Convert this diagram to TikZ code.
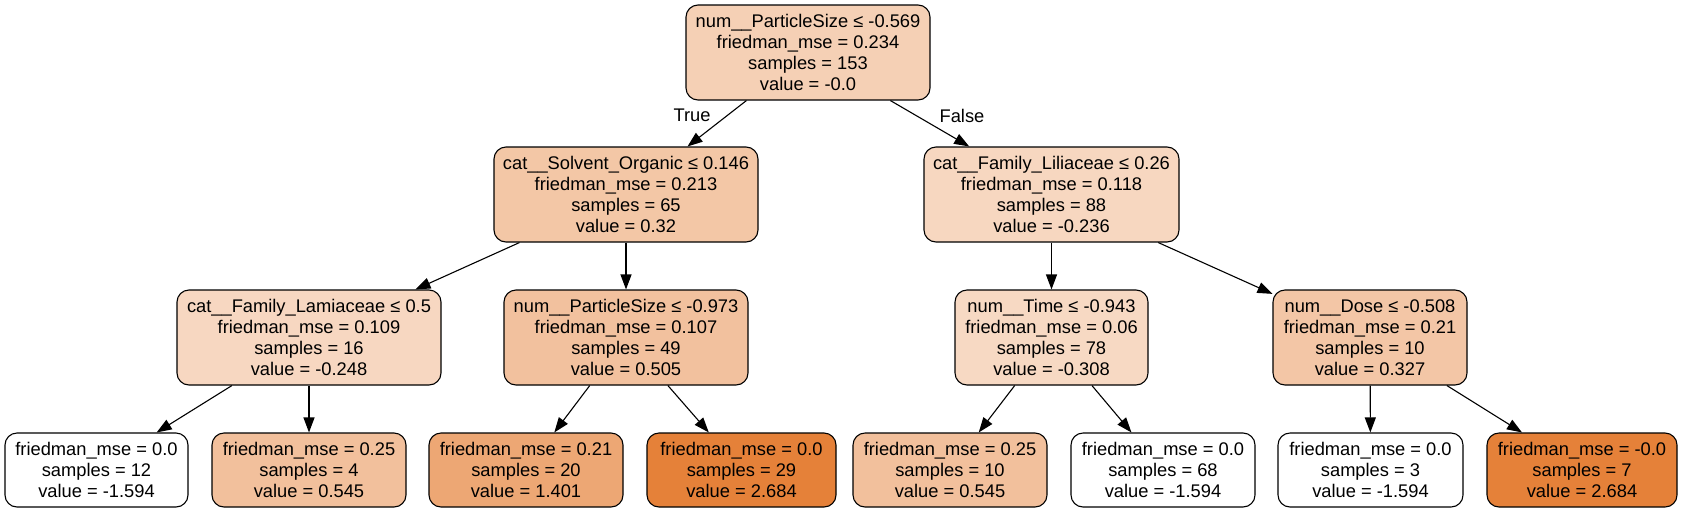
\documentclass[tikz,border=0pt]{standalone}
\usepackage{fontspec}
\setmainfont{Liberation Sans}
\usetikzlibrary{arrows.meta}
\definecolor{cRoot}{RGB}{245,208,181}
\definecolor{cA}{RGB}{243,199,166}
\definecolor{cB}{RGB}{247,215,192}
\definecolor{cC}{RGB}{247,215,193}
\definecolor{cD}{RGB}{242,193,158}
\definecolor{cE}{RGB}{247,217,195}
\definecolor{cF}{RGB}{243,198,166}
\definecolor{cHalf}{RGB}{242,192,156}
\definecolor{cG}{RGB}{237,167,116}
\definecolor{cMax}{RGB}{229,129,57}
\tikzset{
  treebox/.style={draw=black, line width=1.1pt, rounded corners=12pt, align=center,
    inner sep=0pt, font=\fontsize{18.3}{21.2}\selectfont},
  splitbox/.style={treebox, minimum height=95pt},
  leafbox/.style={treebox, minimum height=74pt},
  edgelabel/.style={font=\fontsize{18.3}{21.2}\selectfont, inner sep=0pt},
  conn/.style={draw=black, line width=1.1pt, -{Triangle[length=15pt,width=11pt]}}
}
\begin{document}
\begin{tikzpicture}[x=1pt,y=-1pt]
\useasboundingbox (0,0) rectangle (1681,512);
\node[splitbox, fill=cRoot, minimum width=244pt] (root) at (808,52.5)
  {num\_\_ParticleSize ≤ -0.569\\friedman\_mse = 0.234\\samples = 153\\value = -0.0};
\node[splitbox, fill=cA, minimum width=264pt] (n1) at (626,194.5)
  {cat\_\_Solvent\_Organic ≤ 0.146\\friedman\_mse = 0.213\\samples = 65\\value = 0.32};
\node[splitbox, fill=cB, minimum width=255pt] (n2) at (1051.5,194.5)
  {cat\_\_Family\_Liliaceae ≤ 0.26\\friedman\_mse = 0.118\\samples = 88\\value = -0.236};
\node[splitbox, fill=cC, minimum width=264pt] (n3) at (309,337.5)
  {cat\_\_Family\_Lamiaceae ≤ 0.5\\friedman\_mse = 0.109\\samples = 16\\value = -0.248};
\node[splitbox, fill=cD, minimum width=244pt] (n4) at (626,337.5)
  {num\_\_ParticleSize ≤ -0.973\\friedman\_mse = 0.107\\samples = 49\\value = 0.505};
\node[splitbox, fill=cE, minimum width=193pt] (n5) at (1051.5,337.5)
  {num\_\_Time ≤ -0.943\\friedman\_mse = 0.06\\samples = 78\\value = -0.308};
\node[splitbox, fill=cF, minimum width=194pt] (n6) at (1370,337.5)
  {num\_\_Dose ≤ -0.508\\friedman\_mse = 0.21\\samples = 10\\value = 0.327};
\node[leafbox, fill=white, minimum width=183pt] (l1) at (96.5,470)
  {friedman\_mse = 0.0\\samples = 12\\value = -1.594};
\node[leafbox, fill=cHalf, minimum width=194pt] (l2) at (309,470)
  {friedman\_mse = 0.25\\samples = 4\\value = 0.545};
\node[leafbox, fill=cG, minimum width=194pt] (l3) at (526,470)
  {friedman\_mse = 0.21\\samples = 20\\value = 1.401};
\node[leafbox, fill=cMax, minimum width=189pt] (l4) at (741.5,470)
  {friedman\_mse = 0.0\\samples = 29\\value = 2.684};
\node[leafbox, fill=cHalf, minimum width=194pt] (l5) at (950,470)
  {friedman\_mse = 0.25\\samples = 10\\value = 0.545};
\node[leafbox, fill=white, minimum width=184pt] (l6) at (1163,470)
  {friedman\_mse = 0.0\\samples = 68\\value = -1.594};
\node[leafbox, fill=white, minimum width=185pt] (l7) at (1370.5,470)
  {friedman\_mse = 0.0\\samples = 3\\value = -1.594};
\node[leafbox, fill=cMax, minimum width=190pt] (l8) at (1582,470)
  {friedman\_mse = -0.0\\samples = 7\\value = 2.684};
\draw[conn] (root) -- (n1);
\draw[conn] (root) -- (n2);
\draw[conn] (n1) -- (n3);
\draw[conn] (n1) -- (n4);
\draw[conn] (n2) -- (n5);
\draw[conn] (n2) -- (n6);
\draw[conn] (n3) -- (l1);
\draw[conn] (n3) -- (l2);
\draw[conn] (n4) -- (l3);
\draw[conn] (n4) -- (l4);
\draw[conn] (n5) -- (l5);
\draw[conn] (n5) -- (l6);
\draw[conn] (n6) -- (l7);
\draw[conn] (n6) -- (l8);
\node[edgelabel] (lblT) at (692,115) {True};
\node[edgelabel] (lblF) at (962,116) {False};
\end{tikzpicture}
\end{document}
